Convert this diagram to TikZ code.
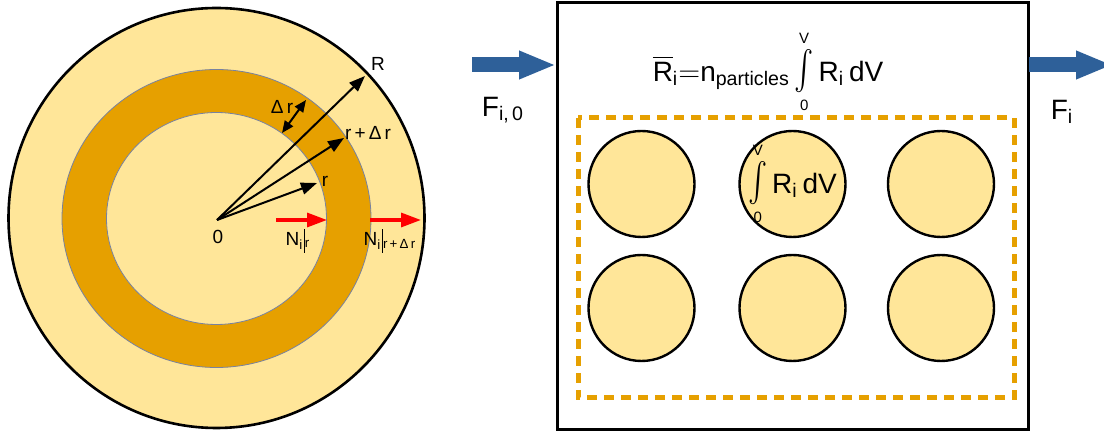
\documentclass[tikz,border=0pt]{standalone}
\usepackage{fontspec}
\setmainfont{Liberation Sans}
\usepackage{amsmath}
\usepackage{graphicx}
\usetikzlibrary{arrows.meta,calc,positioning}

\definecolor{shellfill}{RGB}{255,230,153}
\definecolor{ringorange}{RGB}{230,160,0}
\definecolor{ringedge}{RGB}{120,130,160}
\definecolor{flowblue}{RGB}{46,96,153}

% tall integral with small limits
\newcommand{\tallint}{\mathop{\scalebox{1}[1.35]{$\int$}}\limits_{\text{\fontsize{7.5}{8}\selectfont 0}}^{\text{\fontsize{7.5}{8}\selectfont V}}}

\begin{document}
\begin{tikzpicture}[
    x=0.5pt,y=-0.5pt,
    radiusarrow/.style={draw=black,line width=1pt,-{Triangle[width=6pt,length=8pt]}},
    widtharrow/.style={draw=black,line width=1pt,{Triangle[width=5pt,length=6pt]}-{Triangle[width=5pt,length=6pt]}},
    flux/.style={draw=red,line width=1.6pt,-{Triangle[width=7pt,length=10pt]}},
    feed/.style={draw=flowblue,line width=7.5pt,-{Triangle[width=13pt,length=18.5pt]}},
    particle/.style={circle,draw=black,line width=1.2pt,fill=shellfill,minimum size=53pt,inner sep=0pt},
    small/.style={font=\fontsize{9.5}{11}\selectfont,inner sep=1pt},
    big/.style={font=\fontsize{14}{17}\selectfont,inner sep=1pt}
]
\useasboundingbox (0,0) rectangle (1104,432);

% ===== Shell of one particle =====
\draw[line width=1.3pt,fill=shellfill] (216.5,218) ellipse [x radius=208,y radius=210];
\draw[draw=ringedge,line width=0.4pt,fill=ringorange] (216.5,218.5) ellipse [x radius=154.5,y radius=149];
\draw[draw=ringedge,line width=0.4pt,fill=shellfill] (216.5,218.5) ellipse [x radius=110,y radius=106];

% centre and radius tips
\coordinate (o) at (217,220);
\coordinate (tipR) at (365,76);
\coordinate (tiprdr) at (344,138);
\coordinate (tipr) at (317,183);

\draw[radiusarrow] (o) -- (tipR);
\draw[radiusarrow] (o) -- (tiprdr);
\draw[radiusarrow] (o) -- (tipr);

% shell width
\coordinate (drin) at (282,133);
\coordinate (drout) at (306,100);
\draw[widtharrow] (drin) -- (drout);

% labels
\node[small] (labR) at (378,64) {R};
\node[small] (labdr) at (282,107) {Δ\,r};
\node[small] (labrdr) at (368,133) {r\,+\,Δ\,r};
\node[small] (labr) at (325,181) {r};
\node[small] (lab0) at (218,237) {0};

% ===== Fluxes =====
\coordinate (fluxinA) at (276,220);
\coordinate (fluxinB) at (327,220);
\coordinate (fluxoutA) at (370,220);
\coordinate (fluxoutB) at (421,220);
\draw[flux] (fluxinA) -- (fluxinB);
\draw[flux] (fluxoutA) -- (fluxoutB);

\node[small] (nr) at (298,241)
    {N\textsubscript{i}\hspace{0.4pt}\rule[-3.5pt]{0.45pt}{12pt}\textsubscript{r}};
\node[small] (nrdr) at (390,241)
    {N\textsubscript{i}\hspace{0.4pt}\rule[-3.5pt]{0.45pt}{12pt}\textsubscript{r\,+\,Δ\,r}};

% ===== Reactor box =====
\node[draw,line width=1.5pt,minimum width=235.5pt,minimum height=213.5pt,inner sep=0pt]
    (tank) at (792.5,216.5) {};

% feed and product streams
\coordinate (feedA) at (472,65);
\coordinate (feedB) at (556,65);
\coordinate (prodA) at (1029,65);
\coordinate (prodB) at (1113,65);
\draw[feed] (feedA) -- (feedB);
\draw[feed] (prodA) -- (prodB);

\node[big] (fin) at (503,110) {F\textsubscript{i,\,0}};
\node[big] (fout) at (1062,112) {F\textsubscript{i}};

% mean rate
\node[big] (rbar) at (768,72)
    {$\overline{\text{R}}_{\text{i}}{=}\text{n}_{\text{particles}}
    \tallint\text{R}_{\text{i}}\,\text{dV}$};

% ===== Particles =====
\draw[ringorange,line width=2.5pt,dash pattern=on 5pt off 3.5pt] (578,118) rectangle (1014,398);

\foreach \col/\cx in {1/641.5,2/792.5,3/941}
    \foreach \row/\cy in {1/184,2/308}
        \node[particle] (p\col\row) at (\cx,\cy) {};

\node[big] (rint) at (p21)
    {$\tallint\text{R}_{\text{i}}\,\text{dV}$};

\end{tikzpicture}
\end{document}
